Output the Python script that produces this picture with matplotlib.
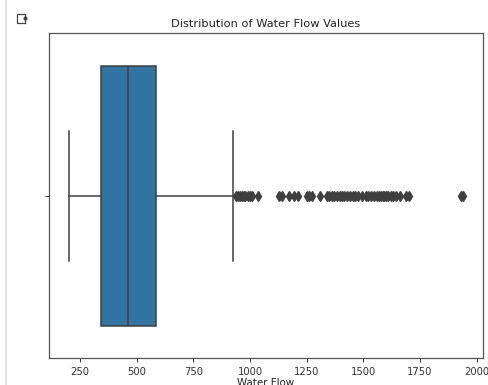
import matplotlib
matplotlib.use("Agg")
import matplotlib.pyplot as plt
from matplotlib.lines import Line2D

# box summary of the Water Flow column
whisker_low = 200
q1 = 343
median = 462
q3 = 584
whisker_high = 926
fliers = [940, 948, 955, 963, 972, 980, 990, 1000, 1008, 1035,
          1130, 1140, 1170, 1195, 1210, 1250, 1262, 1272, 1310,
          1338, 1350, 1362, 1372, 1385, 1395, 1405, 1415, 1428,
          1440, 1455, 1462, 1478, 1495, 1512, 1522, 1532, 1545,
          1560, 1570, 1578, 1585, 1592, 1600, 1610, 1620, 1632,
          1645, 1660, 1690, 1700, 1930, 1941]
xticks = [250, 500, 750, 1000, 1250, 1500, 1750, 2000]

box_color = "#3274a1"
gray = "#3f3f3f"

fig = plt.figure(figsize=(4.89, 3.85), dpi=100)
ax = fig.add_axes([49 / 489, 27 / 385, 434 / 489, 325 / 385])

stats = [{"whislo": whisker_low, "q1": q1, "med": median, "q3": q3,
          "whishi": whisker_high, "fliers": fliers}]
ax.bxp(stats, positions=[0], widths=0.8, vert=False, patch_artist=True,
       boxprops=dict(facecolor=box_color, edgecolor=gray, linewidth=1.1),
       medianprops=dict(color=gray, linewidth=1.1),
       whiskerprops=dict(color=gray, linewidth=1.1),
       capprops=dict(color=gray, linewidth=1.1),
       flierprops=dict(marker="d", markerfacecolor=gray, markeredgecolor=gray,
                       markersize=5, linestyle="none"))

lo = min(whisker_low, min(fliers))
hi = max(whisker_high, max(fliers))
pad = 0.05 * (hi - lo)
ax.set_xlim(lo - pad, hi + pad)
ax.set_ylim(0.5, -0.5)
ax.set_yticks([0])
ax.set_yticklabels([""])
ax.set_xticks(xticks)
ax.tick_params(labelsize=7.2, length=3, width=0.7, colors="#333333")
for s in ax.spines.values():
    s.set_color("#555555")
    s.set_linewidth(0.9)

ax.set_title("Distribution of Water Flow Values", fontsize=8.2, color="#222222", pad=4)
ax.set_xlabel("Water Flow", fontsize=7.4, color="#222222", labelpad=0.5)

# notebook output gutter
fig.add_artist(Line2D([5.5 / 489, 5.5 / 489], [0, 1], color="#dcdcdc", linewidth=1.2))
fig.add_artist(Line2D([25 / 489, 17.5 / 489, 17.5 / 489, 25 / 489],
                      [1 - 13.5 / 385, 1 - 13.5 / 385, 1 - 22.5 / 385, 1 - 22.5 / 385],
                      color="#444444", linewidth=0.9))
fig.add_artist(Line2D([25 / 489, 25 / 489], [1 - 13.5 / 385, 1 - 16 / 385],
                      color="#444444", linewidth=0.9))
fig.add_artist(Line2D([25 / 489, 25 / 489], [1 - 20 / 385, 1 - 22.5 / 385],
                      color="#444444", linewidth=0.9))
fig.add_artist(Line2D([25.5 / 489], [1 - 18 / 385], marker="o", markersize=2,
                      color="#444444"))

fig.savefig("out.png", dpi=100)
